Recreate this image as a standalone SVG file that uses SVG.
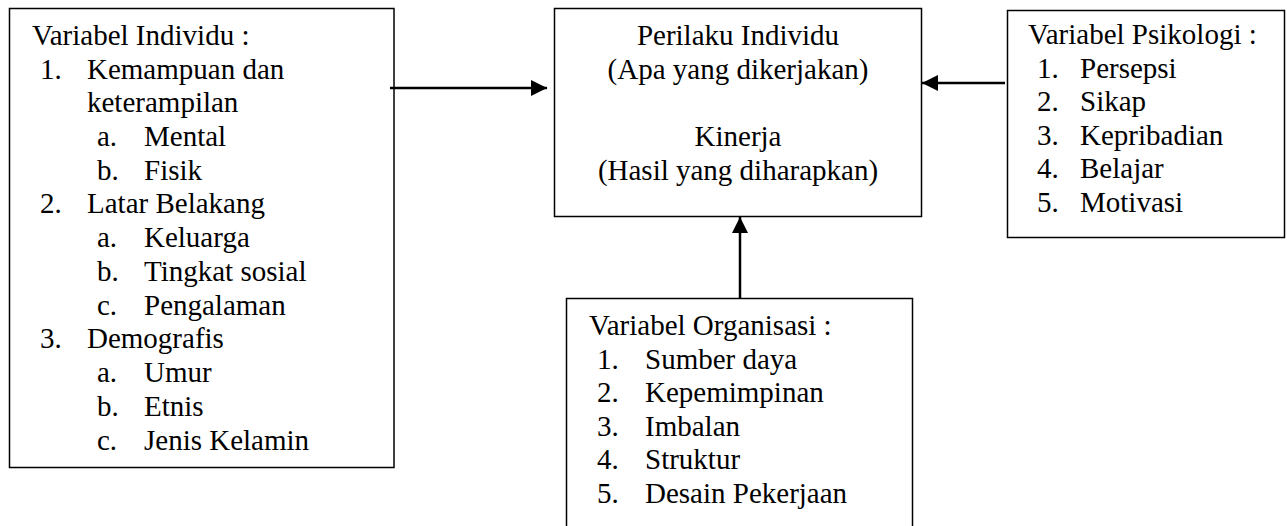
<svg xmlns="http://www.w3.org/2000/svg" width="1287" height="526" viewBox="0 0 1287 526">
<defs>
<style>
.box{fill:#fff;stroke:#000;stroke-width:1.5}
text{font-family:"Liberation Serif","Times New Roman",serif;font-size:29px;fill:#000}
.c{text-anchor:middle}
.con{stroke:#000;stroke-width:2.5;fill:none}
</style>
<marker id="ah" viewBox="0 0 16 16" refX="16" refY="8" markerWidth="16" markerHeight="16" markerUnits="userSpaceOnUse" orient="auto">
<path d="M0,0 L16,8 L0,16 z" fill="#000"/>
</marker>
</defs>
<rect width="1287" height="526" fill="#fff"/>
<g id="individu">
<rect class="box" x="9.5" y="8.5" width="384.5" height="459"/>
<text x="32" y="45">Variabel Individu :</text>
<text x="40" y="79">1.</text><text x="87" y="79">Kemampuan dan</text>
<text x="87" y="112">keterampilan</text>
<text x="97" y="146">a.</text><text x="144" y="146">Mental</text>
<text x="97" y="180">b.</text><text x="144" y="180">Fisik</text>
<text x="40" y="213">2.</text><text x="87" y="213">Latar Belakang</text>
<text x="97" y="247">a.</text><text x="144" y="247">Keluarga</text>
<text x="97" y="281">b.</text><text x="144" y="281">Tingkat sosial</text>
<text x="97" y="315">c.</text><text x="144" y="315">Pengalaman</text>
<text x="40" y="348">3.</text><text x="87" y="348">Demografis</text>
<text x="97" y="382">a.</text><text x="144" y="382">Umur</text>
<text x="97" y="416">b.</text><text x="144" y="416">Etnis</text>
<text x="97" y="450">c.</text><text x="144" y="450">Jenis Kelamin</text>
</g>
<g id="perilaku">
<rect class="box" x="554.5" y="8.5" width="367" height="208"/>
<text class="c" x="738" y="45">Perilaku Individu</text>
<text class="c" x="738" y="79">(Apa yang dikerjakan)</text>
<text class="c" x="738" y="146">Kinerja</text>
<text class="c" x="738" y="180">(Hasil yang diharapkan)</text>
</g>
<g id="psikologi">
<rect class="box" x="1007.5" y="10.5" width="277" height="227"/>
<text x="1028" y="44">Variabel Psikologi :</text>
<text x="1037" y="78">1.</text><text x="1080" y="78">Persepsi</text>
<text x="1037" y="111">2.</text><text x="1080" y="111">Sikap</text>
<text x="1037" y="145">3.</text><text x="1080" y="145">Kepribadian</text>
<text x="1037" y="178">4.</text><text x="1080" y="178">Belajar</text>
<text x="1037" y="212">5.</text><text x="1080" y="212">Motivasi</text>
</g>
<g id="organisasi">
<rect class="box" x="566.5" y="298.5" width="346" height="240"/>
<text x="589" y="335">Variabel Organisasi :</text>
<text x="597" y="369">1.</text><text x="645" y="369">Sumber daya</text>
<text x="597" y="402">2.</text><text x="645" y="402">Kepemimpinan</text>
<text x="597" y="436">3.</text><text x="645" y="436">Imbalan</text>
<text x="597" y="469">4.</text><text x="645" y="469">Struktur</text>
<text x="597" y="503">5.</text><text x="645" y="503">Desain Pekerjaan</text>
</g>
<g id="connectors">
<line class="con" x1="390" y1="88" x2="547" y2="88" marker-end="url(#ah)"/>
<line class="con" x1="1005" y1="83" x2="922" y2="83" marker-end="url(#ah)"/>
<line class="con" x1="740" y1="298" x2="740" y2="217" marker-end="url(#ah)"/>
</g>
</svg>
